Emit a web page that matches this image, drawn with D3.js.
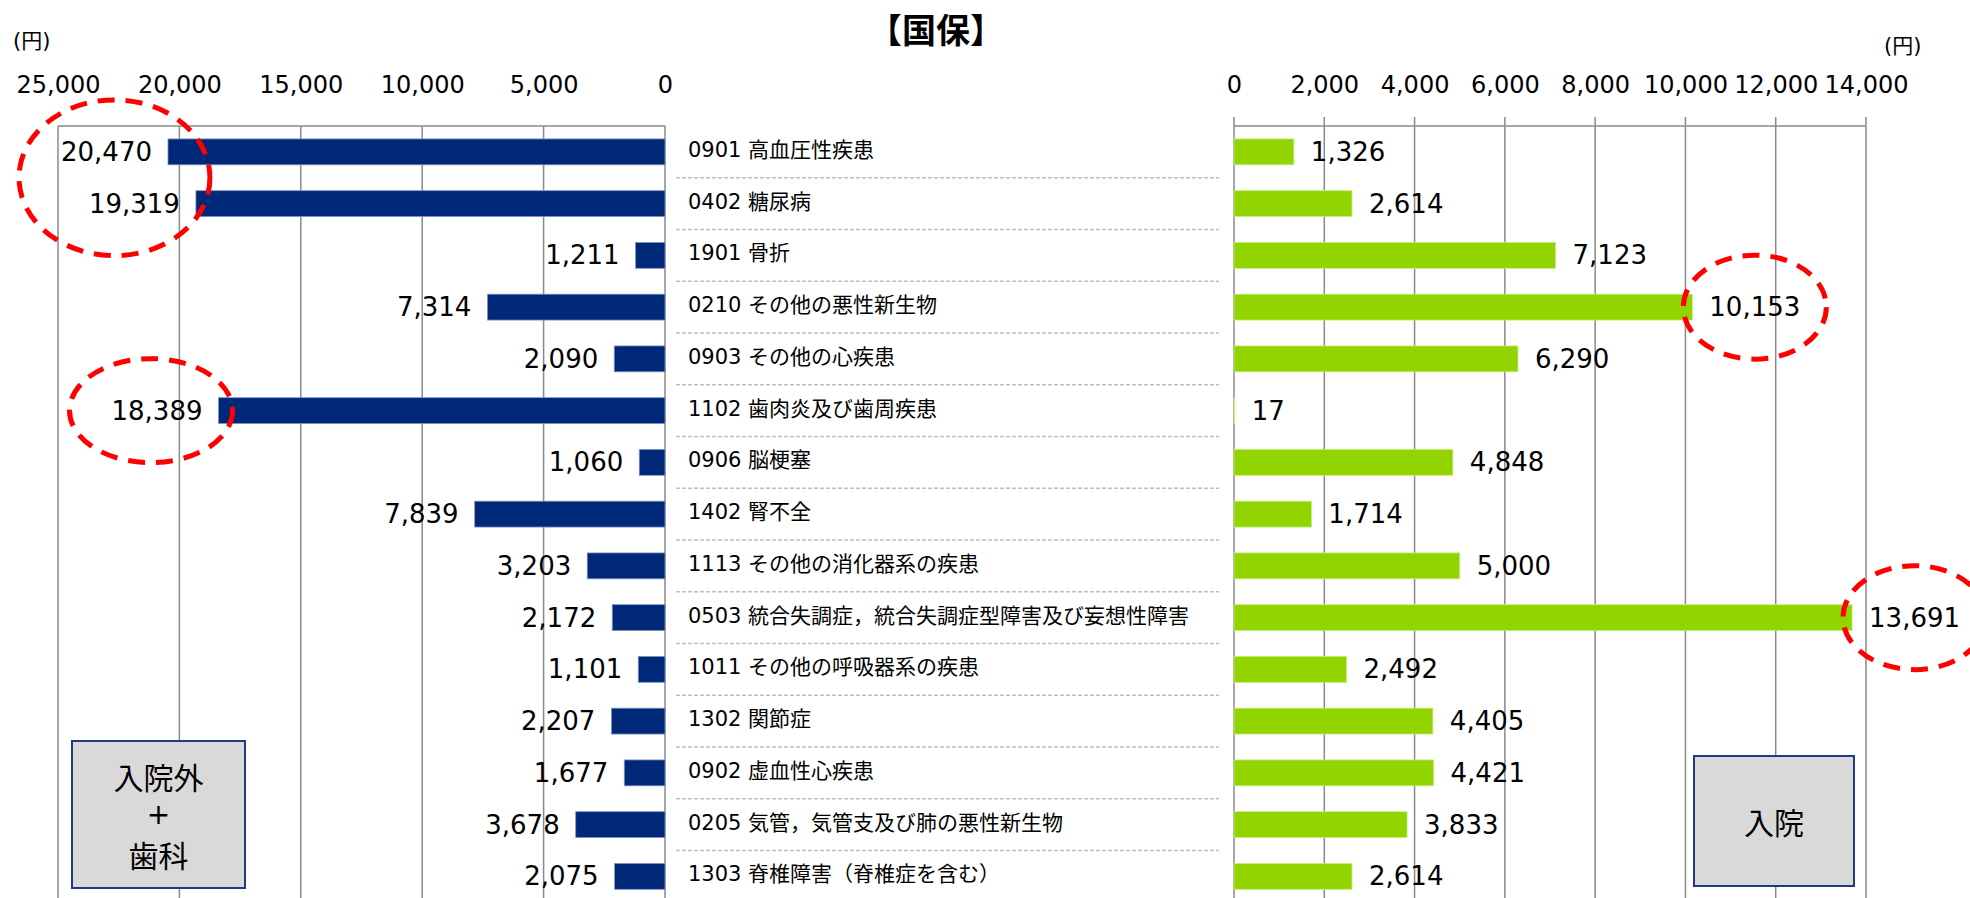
<!DOCTYPE html>
<html>
<head>
<meta charset="utf-8">
<script src="https://cdn.jsdelivr.net/npm/d3@7"></script>
<style>
  body { margin: 0; background: #fff; }
  svg { display: block; }
</style>
</head>
<body>
<svg id="chart"></svg>
<script>
// disease categories, top to bottom
const categories = [
  "0901 高血圧性疾患",
  "0402 糖尿病",
  "1901 骨折",
  "0210 その他の悪性新生物",
  "0903 その他の心疾患",
  "1102 歯肉炎及び歯周疾患",
  "0906 脳梗塞",
  "1402 腎不全",
  "1113 その他の消化器系の疾患",
  "0503 統合失調症，統合失調症型障害及び妄想性障害",
  "1011 その他の呼吸器系の疾患",
  "1302 関節症",
  "0902 虚血性心疾患",
  "0205 気管，気管支及び肺の悪性新生物",
  "1303 脊椎障害（脊椎症を含む）"
];
// 入院外＋歯科 (円)
const outpatient = [20470, 19319, 1211, 7314, 2090, 18389, 1060, 7839, 3203, 2172, 1101, 2207, 1677, 3678, 2075];
// 入院 (円)
const inpatient = [1326, 2614, 7123, 10153, 6290, 17, 4848, 1714, 5000, 13691, 2492, 4405, 4421, 3833, 2614];

const leftTicks = [0, 5000, 10000, 15000, 20000, 25000];
const rightTicks = [0, 2000, 4000, 6000, 8000, 10000, 12000, 14000];

// rows circled in red
const highlights = [
  { side: "left", rows: [0, 1] },
  { side: "left", rows: [5] },
  { side: "right", rows: [3] },
  { side: "right", rows: [9] }
];

const title = "【国保】";
const unit = "(円)";
const leftBoxText = ["入院外", "+", "歯科"];
const rightBoxText = ["入院"];

const width = 1970, height = 898;
const plotTop = 126;
const step = 51.75;
const numFont = "'DejaVu Sans', 'Noto Sans CJK JP', sans-serif";
const jpFont = "'Noto Sans CJK JP', sans-serif";
const navy = "#002878", green = "#92d400", grid = "#8a8a8a";
const fmt = d3.format(",");

const svg = d3.select("#chart")
    .attr("width", width)
    .attr("height", height)
    .attr("viewBox", [0, 0, width, height]);

svg.append("rect").attr("width", width).attr("height", height).attr("fill", "#fff");

const xL = d3.scaleLinear().domain([0, 25000]).range([665, 58]);
const xR = d3.scaleLinear().domain([0, 14000]).range([1234, 1866]);
const y = d3.scaleBand()
    .domain(categories)
    .range([plotTop, plotTop + step * categories.length])
    .paddingInner(0.5)
    .paddingOuter(0.25);

// title and units
svg.append("text")
    .attr("x", 936).attr("y", 28)
    .attr("text-anchor", "middle")
    .attr("dominant-baseline", "central")
    .attr("font-family", jpFont)
    .attr("font-weight", "bold")
    .attr("font-size", 34)
    .text(title);

svg.append("text")
    .attr("x", 13).attr("y", 48)
    .attr("font-family", numFont)
    .attr("font-size", 21)
    .text(unit);

svg.append("text")
    .attr("x", 1884).attr("y", 53)
    .attr("font-family", numFont)
    .attr("font-size", 21)
    .text(unit);

// gridlines
svg.append("g")
    .selectAll("line")
    .data(leftTicks)
    .join("line")
    .attr("x1", d => xL(d)).attr("x2", d => xL(d))
    .attr("y1", plotTop).attr("y2", height)
    .attr("stroke", grid).attr("stroke-width", 1.5);

svg.append("line")
    .attr("x1", xL(25000)).attr("x2", xL(0))
    .attr("y1", plotTop).attr("y2", plotTop)
    .attr("stroke", grid).attr("stroke-width", 1.5);

svg.append("g")
    .selectAll("line")
    .data(rightTicks)
    .join("line")
    .attr("x1", d => xR(d)).attr("x2", d => xR(d))
    .attr("y1", plotTop - 9).attr("y2", height)
    .attr("stroke", grid).attr("stroke-width", 1.5);

svg.append("line")
    .attr("x1", xR(0)).attr("x2", xR(14000))
    .attr("y1", plotTop).attr("y2", plotTop)
    .attr("stroke", grid).attr("stroke-width", 1.5);

// axes (labels only)
const styleAxis = g => {
    g.select(".domain").remove();
    g.selectAll(".tick line").remove();
    g.selectAll("text")
        .attr("font-family", numFont)
        .attr("font-size", 24)
        .attr("fill", "#000");
};

svg.append("g")
    .attr("transform", `translate(0,${plotTop})`)
    .call(d3.axisTop(xL).tickValues(leftTicks).tickFormat(fmt).tickSize(0).tickPadding(33))
    .call(styleAxis);

svg.append("g")
    .attr("transform", `translate(0,${plotTop})`)
    .call(d3.axisTop(xR).tickValues(rightTicks).tickFormat(fmt).tickSize(0).tickPadding(33))
    .call(styleAxis);

// dashed separators between category labels
svg.append("g")
    .selectAll("line")
    .data(categories.slice(1))
    .join("line")
    .attr("x1", 676).attr("x2", 1219)
    .attr("y1", d => y(d) - y.step() * y.paddingInner() / 2)
    .attr("y2", d => y(d) - y.step() * y.paddingInner() / 2)
    .attr("stroke", "#bdbdbd")
    .attr("stroke-width", 1.5)
    .attr("stroke-dasharray", "4,2");

// category labels
svg.append("g")
    .selectAll("text")
    .data(categories)
    .join("text")
    .attr("x", 688)
    .attr("y", d => y(d) + y.bandwidth() / 2 - 2)
    .attr("dominant-baseline", "central")
    .attr("font-family", numFont)
    .attr("font-size", 21)
    .attr("fill", "#000")
    .text(d => d);

// left bars (入院外＋歯科)
svg.append("g")
    .selectAll("rect")
    .data(outpatient)
    .join("rect")
    .attr("x", d => xL(d))
    .attr("y", (d, i) => y(categories[i]))
    .attr("width", d => xL(0) - xL(d))
    .attr("height", y.bandwidth())
    .attr("fill", navy)
    .attr("stroke", "#7d94c4")
    .attr("stroke-width", 0.8);

const leftLabels = svg.append("g")
    .selectAll("text")
    .data(outpatient)
    .join("text")
    .attr("x", d => xL(d) - 16)
    .attr("y", (d, i) => y(categories[i]) + y.bandwidth() / 2)
    .attr("text-anchor", "end")
    .attr("dominant-baseline", "central")
    .attr("font-family", numFont)
    .attr("font-size", 26)
    .attr("fill", "#000")
    .text(d => fmt(d));

// right bars (入院)
svg.append("g")
    .selectAll("rect")
    .data(inpatient)
    .join("rect")
    .attr("x", xR(0))
    .attr("y", (d, i) => y(categories[i]))
    .attr("width", d => xR(d) - xR(0))
    .attr("height", y.bandwidth())
    .attr("fill", green)
    .attr("stroke", "#c6ec7a")
    .attr("stroke-width", 0.8);

const rightLabels = svg.append("g")
    .selectAll("text")
    .data(inpatient)
    .join("text")
    .attr("x", d => xR(d) + 17)
    .attr("y", (d, i) => y(categories[i]) + y.bandwidth() / 2)
    .attr("dominant-baseline", "central")
    .attr("font-family", numFont)
    .attr("font-size", 26)
    .attr("fill", "#000")
    .text(d => fmt(d));

// legend-like boxes
function labelBox(x0, y0, w, h, lines, lineGap) {
    const g = svg.append("g");
    g.append("rect")
        .attr("x", x0).attr("y", y0)
        .attr("width", w).attr("height", h)
        .attr("fill", "#d9d9d9")
        .attr("stroke", "#1f3c82")
        .attr("stroke-width", 2);
    const cy = y0 + h / 2 - (lines.length - 1) * lineGap / 2;
    g.selectAll("text")
        .data(lines)
        .join("text")
        .attr("x", x0 + w / 2)
        .attr("y", (d, i) => cy + i * lineGap)
        .attr("text-anchor", "middle")
        .attr("dominant-baseline", "central")
        .attr("font-family", d => /^[+]$/.test(d) ? numFont : jpFont)
        .attr("font-size", d => /^[+]$/.test(d) ? 28 : 30)
        .attr("fill", "#000")
        .text(d => d);
}
labelBox(72, 741, 173, 147, leftBoxText, 39);
labelBox(1694, 756, 160, 130, rightBoxText, 39);

// red dashed circles around highlighted values
const leftNodes = leftLabels.nodes(), rightNodes = rightLabels.nodes();
highlights.forEach(h => {
    const nodes = h.rows.map(r => (h.side === "left" ? leftNodes : rightNodes)[r]);
    const boxes = nodes.map(n => n.getBBox());
    const x0 = d3.min(boxes, b => b.x), x1 = d3.max(boxes, b => b.x + b.width);
    const y0 = d3.min(boxes, b => b.y), y1 = d3.max(boxes, b => b.y + b.height);
    const pad = h.side === "left" ? 36 : 26;
    svg.append("ellipse")
        .attr("cx", (x0 + x1) / 2 - (h.side === "left" ? 6 : 0))
        .attr("cy", (y0 + y1) / 2)
        .attr("rx", (x1 - x0) / 2 + pad)
        .attr("ry", (y1 - y0) / 2 + 37)
        .attr("fill", "none")
        .attr("stroke", "#ff0000")
        .attr("stroke-width", 5)
        .attr("stroke-dasharray", "17,11");
});
</script>
</body>
</html>
